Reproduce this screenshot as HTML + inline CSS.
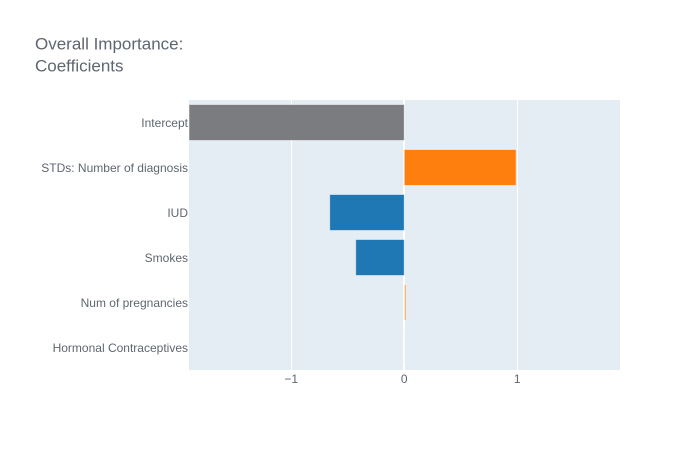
<!DOCTYPE html>
<html lang="en">
<head>
<meta charset="utf-8">
<title>Overall Importance: Coefficients</title>
<style>
html,body{margin:0;padding:0;background:#fff;}
body{width:700px;height:450px;overflow:hidden;}
svg{display:block;font-family:"Liberation Sans",Arial,sans-serif;}
</style>
</head>
<body>
<svg id="chart" width="700" height="450" viewBox="0 0 700 450" xmlns="http://www.w3.org/2000/svg">
  <rect width="700" height="450" fill="#fff"/>
  <text x="35" y="49.5" font-size="17" fill="#5f6670">
    <tspan x="35" y="49.5">Overall Importance:</tspan>
    <tspan x="35" y="71.5">Coefficients</tspan>
  </text>
  <rect x="189" y="100" width="431" height="270" fill="#e4ecf4"/>
  <g id="grid"></g>
  <g id="bars"></g>
  <g id="yticks"></g>
  <g id="xticks"></g>
</svg>
<script>
const categories = ["Intercept", "STDs: Number of diagnosis", "IUD", "Smokes", "Num of pregnancies", "Hormonal Contraceptives"];
const coefficients = [-1.905, 0.99, -0.66, -0.43, 0.02, 0.003];
const xTickValues = [-1, 0, 1];
const xTickLabels = ["\u22121", "0", "1"];

const SVG_NS = "http://www.w3.org/2000/svg";
const plot = { left: 189, right: 620, top: 100, bottom: 370 };
const xDomain = [-1.905, 1.909];
const barFraction = 0.8;

function xScale(v) {
  return plot.left + (v - xDomain[0]) / (xDomain[1] - xDomain[0]) * (plot.right - plot.left);
}
function bandHeight() {
  return (plot.bottom - plot.top) / categories.length;
}
function yCenter(i) {
  return plot.top + bandHeight() * (i + 0.5);
}
function barColor(category, value) {
  if (category === "Intercept") return "#7b7c80";
  return value >= 0 ? "#ff7f0e" : "#1f77b4";
}
function slug(s) {
  return s.toLowerCase().replace(/[^a-z0-9]+/g, "-").replace(/^-|-$/g, "");
}
function make(tag, attrs) {
  const el = document.createElementNS(SVG_NS, tag);
  for (const k in attrs) el.setAttribute(k, attrs[k]);
  return el;
}

const gridGroup = document.getElementById("grid");
const barGroup = document.getElementById("bars");
const yGroup = document.getElementById("yticks");
const xGroup = document.getElementById("xticks");

xTickValues.forEach(function (v, i) {
  const px = v === 0 ? Math.round(xScale(v)) : Math.floor(xScale(v)) + 0.5;
  const line = make("line", { x1: px, x2: px, y1: plot.top, y2: plot.bottom, stroke: "#fff", "stroke-width": v === 0 ? 2 : 1 });
  
  
  gridGroup.appendChild(line);

  const label = make("text", { x: xScale(v), y: 383, "text-anchor": "middle", "font-size": 12, fill: "#5f6670" });
  label.textContent = xTickLabels[i];
  
  
  xGroup.appendChild(label);
});

categories.forEach(function (cat, i) {
  const v = coefficients[i];
  const h = bandHeight() * barFraction;
  const x0 = xScale(0);
  const x1 = xScale(v);
  const w = Math.abs(x1 - x0);
  const bar = make("rect", {
    x: Math.min(x0, x1),
    y: yCenter(i) - h / 2,
    width: w,
    height: h,
    fill: barColor(cat, v),
    "fill-opacity": w < 3 ? 0.45 : 1,
    stroke: "#fff",
    "stroke-opacity": 0.5,
    "stroke-width": 1
  });
  
  
  barGroup.appendChild(bar);

  const label = make("text", { x: 188, y: yCenter(i) + 4.5, "text-anchor": "end", "font-size": 12, fill: "#5f6670" });
  label.textContent = cat;
  
  
  yGroup.appendChild(label);
});
</script>
</body>
</html>
